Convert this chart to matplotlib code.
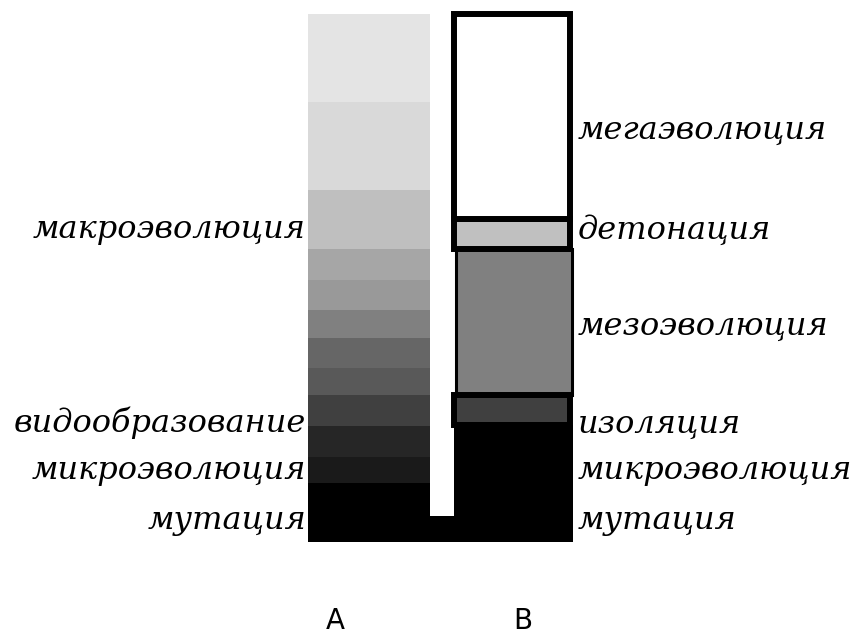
import matplotlib
matplotlib.use("Agg")
import matplotlib.pyplot as plt

# ---------------- data ----------------
columns = ["A", "B"]

# column A: stacked grey bands, bottom -> top (units of the vertical scale)
a_heights = [2, 0.9, 1.05, 1.05, 0.93, 1.02, 0.95, 1.03, 1.07, 2, 3, 3]
a_colors = ["#000000", "#1a1a1a", "#262626", "#404040", "#595959", "#666666",
            "#808080", "#999999", "#a6a6a6", "#bfbfbf", "#d9d9d9", "#e4e4e4"]
a_labels = ["мутация", "микроэволюция", "видообразование", "макроэволюция"]
a_label_y = [0.75, 2.45, 4.05, 10.65]

# column B: stages bottom -> top
b_stages = ["мутация+микроэволюция", "изоляция", "мезоэволюция", "детонация", "мегаэволюция"]
b_heights = [4, 1, 5, 1, 7]
b_colors = ["#000000", "#404040", "#808080", "#c0c0c0", "#ffffff"]
b_labels = ["мутация", "микроэволюция", "изоляция", "мезоэволюция", "детонация", "мегаэволюция"]
b_label_y = [0.75, 2.45, 4.02, 7.36, 10.64, 14.05]

bridge_height = 0.9  # black base linking the two columns

# ---------------- figure ----------------
W, H = 858, 635
fig = plt.figure(figsize=(W / 100, H / 100), dpi=100)
ax = fig.add_axes([0, (H - 542) / H, 1, (542 - 14) / H])
ax.set_xlim(0, W)
ax.set_ylim(0, 18)
ax.axis("off")

xA, wA = 369, 122
xB, wB = 512, 116

# column A
bottom = 0
for h, c in zip(a_heights, a_colors):
    ax.bar(xA, h, width=wA, bottom=bottom, color=c, linewidth=0, clip_on=False)
    bottom += h

# bridge
ax.bar(442, bridge_height, width=24, bottom=0, color="black", linewidth=0, clip_on=False)

# column B
bottoms = [0]
for h in b_heights[:-1]:
    bottoms.append(bottoms[-1] + h)

lw_thick = 4.3
lw_thin = 2.2
# base black
ax.bar(513.5, b_heights[0], width=119, bottom=bottoms[0], color=b_colors[0],
       linewidth=0, clip_on=False, zorder=2)
# mezo (thin frame)
ax.bar(513.5, b_heights[2], width=116, bottom=bottoms[2], color=b_colors[2],
       edgecolor="black", linewidth=lw_thin, clip_on=False, zorder=2)
# isolation, detonation, mega (thick frames)
for i in (1, 3, 4):
    ax.bar(xB, b_heights[i], width=wB, bottom=bottoms[i], color=b_colors[i],
           edgecolor="black", linewidth=lw_thick, clip_on=False, zorder=3)

# labels
font = dict(family="DejaVu Serif", style="italic", fontsize=23, color="black")
for t, y in zip(a_labels, a_label_y):
    ax.text(306, y, t, ha="right", va="center", **font, clip_on=False)
for t, y in zip(b_labels, b_label_y):
    ax.text(578, y, t, ha="left", va="center", **font, clip_on=False)

for x, t in zip([335, 523], columns):
    ax.text(x, -2.7, t, ha="center", va="center", fontsize=20,
            family="DejaVu Sans", clip_on=False)

fig.savefig("out.png", dpi=100)
